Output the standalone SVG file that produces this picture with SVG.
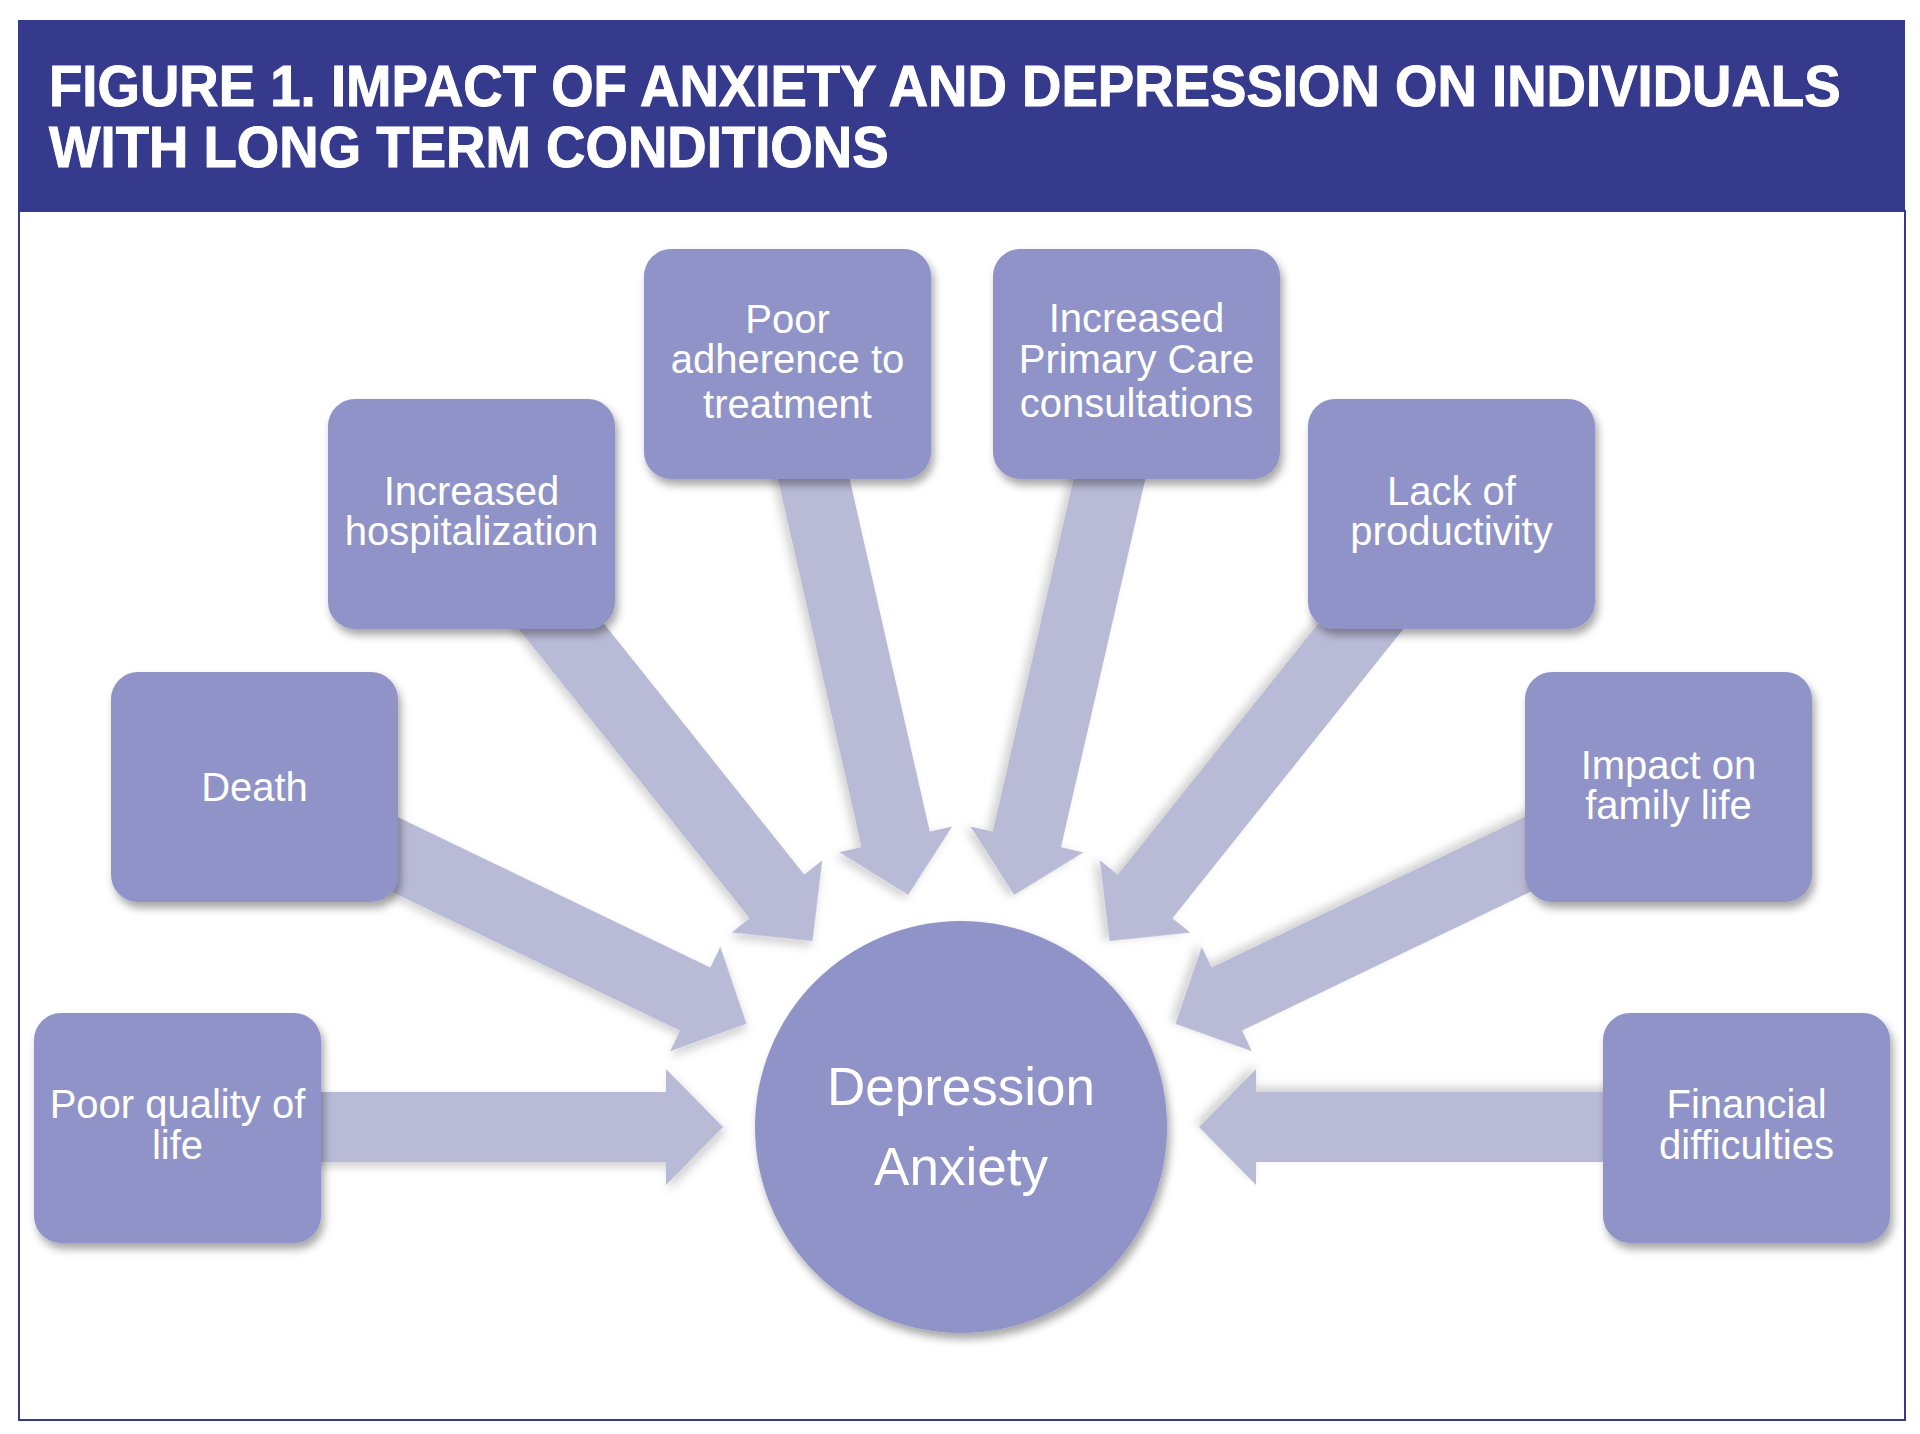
<svg xmlns="http://www.w3.org/2000/svg" width="1920" height="1434" viewBox="0 0 1920 1434">
<defs>
<style>
.box{fill:#8f93c7;filter:url(#sh)}
.lbl{font-family:"Liberation Sans",Arial,sans-serif;font-size:40px;fill:#ffffff;text-anchor:middle}
.big{font-size:53px}
.arrow{fill:#b9bad6;filter:url(#ash)}
.title{font-family:"Liberation Sans",Arial,sans-serif;font-weight:bold;font-size:58px;fill:#ffffff;stroke:#ffffff;stroke-width:1}
</style>
<filter id="sh" x="-20%" y="-20%" width="140%" height="140%">
<feDropShadow dx="3" dy="6" stdDeviation="4" flood-color="#000000" flood-opacity="0.35"/>
</filter>
<filter id="ash" x="-20%" y="-20%" width="140%" height="140%">
<feDropShadow dx="3" dy="5" stdDeviation="5" flood-color="#000000" flood-opacity="0.18"/>
</filter>
<polygon id="arr" points="-784,-35 -295,-35 -295,-58 -238,0 -295,58 -295,35 -784,35"/>
</defs>
<rect x="0" y="0" width="1920" height="1434" fill="#ffffff"/>
<rect x="19" y="211" width="1886" height="1209" fill="#ffffff" stroke="#353a8d" stroke-width="2"/>
<g id="header">
<rect x="18" y="20" width="1887" height="191" fill="#353a8d"/>
<text class="title" transform="translate(49,106) scale(0.941,1)" x="0" y="0">FIGURE 1. IMPACT OF ANXIETY AND DEPRESSION ON INDIVIDUALS</text>
<text class="title" transform="translate(49,167) scale(0.941,1)" x="0" y="0">WITH LONG TERM CONDITIONS</text>
</g>
<g id="connectors">
<use href="#arr" class="arrow" transform="translate(961,1127) rotate(0)"/>
<use href="#arr" class="arrow" transform="translate(961,1127) rotate(25.7)"/>
<use href="#arr" class="arrow" transform="translate(961,1127) rotate(51.4)"/>
<use href="#arr" class="arrow" transform="translate(961,1127) rotate(77.2)"/>
<use href="#arr" class="arrow" transform="translate(961,1127) rotate(102.9)"/>
<use href="#arr" class="arrow" transform="translate(961,1127) rotate(128.6)"/>
<use href="#arr" class="arrow" transform="translate(961,1127) rotate(154.3)"/>
<use href="#arr" class="arrow" transform="translate(961,1127) rotate(180)"/>
</g>
<g id="node-poor-quality">
<rect class="box" x="34" y="1013" width="287" height="230" rx="27"/>
<text class="lbl" x="177.5" y="1118">Poor quality of</text>
<text class="lbl" x="177.5" y="1159">life</text>
</g>
<g id="node-death">
<rect class="box" x="111" y="672" width="287" height="230" rx="27"/>
<text class="lbl" x="254.5" y="801">Death</text>
</g>
<g id="node-hospitalization">
<rect class="box" x="328" y="399" width="287" height="230" rx="27"/>
<text class="lbl" x="471.5" y="505">Increased</text>
<text class="lbl" x="471.5" y="545">hospitalization</text>
</g>
<g id="node-adherence">
<rect class="box" x="644" y="249" width="287" height="230" rx="27"/>
<text class="lbl" x="787.5" y="333">Poor</text>
<text class="lbl" x="787.5" y="373">adherence to</text>
<text class="lbl" x="787.5" y="418">treatment</text>
</g>
<g id="node-primary-care">
<rect class="box" x="993" y="249" width="287" height="230" rx="27"/>
<text class="lbl" x="1136.5" y="332">Increased</text>
<text class="lbl" x="1136.5" y="373">Primary Care</text>
<text class="lbl" x="1136.5" y="417">consultations</text>
</g>
<g id="node-productivity">
<rect class="box" x="1308" y="399" width="287" height="230" rx="27"/>
<text class="lbl" x="1451.5" y="505">Lack of</text>
<text class="lbl" x="1451.5" y="545">productivity</text>
</g>
<g id="node-family">
<rect class="box" x="1525" y="672" width="287" height="230" rx="27"/>
<text class="lbl" x="1668.5" y="779">Impact on</text>
<text class="lbl" x="1668.5" y="819">family life</text>
</g>
<g id="node-financial">
<rect class="box" x="1603" y="1013" width="287" height="230" rx="27"/>
<text class="lbl" x="1746.5" y="1118">Financial</text>
<text class="lbl" x="1746.5" y="1159">difficulties</text>
</g>
<g id="node-center">
<circle class="box" cx="961" cy="1127" r="206"/>
<text class="lbl big" x="961" y="1105">Depression</text>
<text class="lbl big" x="961" y="1185">Anxiety</text>
</g>
</svg>
